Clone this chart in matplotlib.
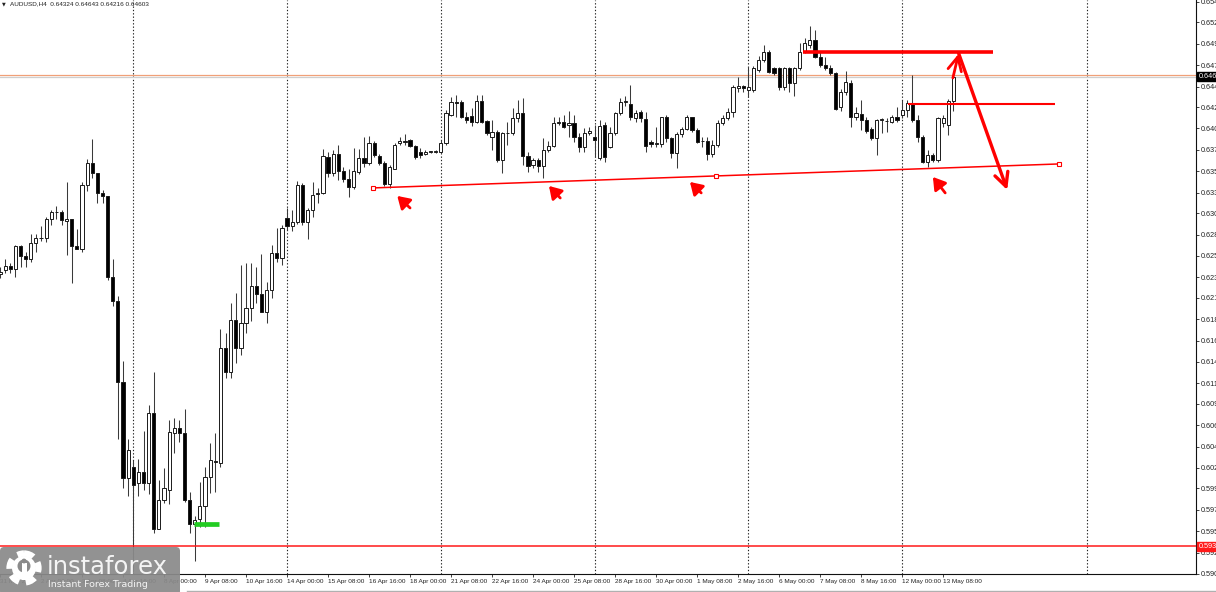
import numpy as np
import matplotlib
matplotlib.use("Agg")
import matplotlib.pyplot as plt
import matplotlib.transforms as mtransforms
from matplotlib.patches import FancyBboxPatch, Circle, Rectangle

symbol = "AUDUSD,H4"
first_bar = -26          # bar 0 = 7 Apr 00:00, one bar every 4 hours

# OHLC, oldest first (bars -26 .. 160)
opens = [
    0.6239, 0.6243, 0.6248, 0.6244, 0.6270, 0.6259, 0.6256, 0.6274, 0.6279, 0.6279,
    0.6300, 0.6308, 0.6308, 0.6298, 0.6300, 0.6270, 0.6267, 0.6339, 0.6363, 0.6352,
    0.6330, 0.6326, 0.6235, 0.6208, 0.6118, 0.6010, 0.6022, 0.6004, 0.6017, 0.6004,
    0.6083, 0.5953, 0.5985, 0.5996, 0.6060, 0.6066, 0.6060, 0.5985, 0.5958, 0.5964,
    0.5978, 0.6011, 0.6029, 0.6027, 0.6156, 0.6129, 0.6187, 0.6156, 0.6184, 0.6200,
    0.6225, 0.6216, 0.6196, 0.6221, 0.6262, 0.6257, 0.6302, 0.6293, 0.6297, 0.6339,
    0.6297, 0.6311, 0.6329, 0.6330, 0.6370, 0.6352, 0.6373, 0.6354, 0.6345, 0.6336,
    0.6353, 0.6369, 0.6363, 0.6386, 0.6371, 0.6363, 0.6340, 0.6357, 0.6386, 0.6387,
    0.6389, 0.6382, 0.6376, 0.6373, 0.6376, 0.6376, 0.6376, 0.6386, 0.6417, 0.6432,
    0.6432, 0.6415, 0.6416, 0.6409, 0.6433, 0.6410, 0.6392, 0.6398, 0.6367, 0.6397,
    0.6397, 0.6414, 0.6419, 0.6371, 0.6361, 0.6367, 0.6360, 0.6378, 0.6382, 0.6408,
    0.6409, 0.6406, 0.6408, 0.6392, 0.6381, 0.6397, 0.6392, 0.6369, 0.6406, 0.6381,
    0.6397, 0.6419, 0.6432, 0.6429, 0.6414, 0.6420, 0.6413, 0.6387, 0.6385, 0.6385,
    0.6415, 0.6391, 0.6375, 0.6396, 0.6401, 0.6415, 0.6400, 0.6388, 0.6388, 0.6373,
    0.6384, 0.6408, 0.6414, 0.6420, 0.6447, 0.6450, 0.6445, 0.6445, 0.6468, 0.6479,
    0.6488, 0.6470, 0.6470, 0.6449, 0.6470, 0.6453, 0.6470, 0.6488, 0.6496, 0.6501,
    0.6482, 0.6473, 0.6470, 0.6464, 0.6426, 0.6443, 0.6453, 0.6415, 0.6418, 0.6412,
    0.6401, 0.6391, 0.6412, 0.6410, 0.6409, 0.6415, 0.6417, 0.6423, 0.6431, 0.6412,
    0.6392, 0.6364, 0.6372, 0.6367, 0.6408, 0.6406, 0.64324,
]
highs = [
    0.6246, 0.6255, 0.6251, 0.6271, 0.6271, 0.6263, 0.6284, 0.6284, 0.6292, 0.6303,
    0.6311, 0.6315, 0.6311, 0.6342, 0.6300, 0.6289, 0.6342, 0.6368, 0.6390, 0.6352,
    0.6333, 0.6326, 0.6255, 0.6214, 0.6141, 0.6053, 0.6030, 0.6031, 0.6063, 0.6092,
    0.6129, 0.6008, 0.6021, 0.6075, 0.6077, 0.6075, 0.6087, 0.5994, 0.5967, 0.6005,
    0.6022, 0.6049, 0.6060, 0.6177, 0.6173, 0.6206, 0.6217, 0.6249, 0.6251, 0.6251,
    0.6246, 0.6261, 0.6230, 0.6271, 0.6290, 0.6294, 0.6313, 0.6311, 0.6343, 0.6341,
    0.6313, 0.6342, 0.6335, 0.6379, 0.6376, 0.6378, 0.6384, 0.6359, 0.6356, 0.6380,
    0.6379, 0.6392, 0.6394, 0.6388, 0.6373, 0.6366, 0.6361, 0.6386, 0.6392, 0.6396,
    0.6390, 0.6384, 0.6380, 0.6378, 0.6377, 0.6378, 0.6389, 0.6423, 0.6437, 0.6440,
    0.6434, 0.6420, 0.6425, 0.6440, 0.6440, 0.6412, 0.6412, 0.6400, 0.6398, 0.6409,
    0.6425, 0.6434, 0.6436, 0.6376, 0.6369, 0.6369, 0.6391, 0.6388, 0.6415, 0.6415,
    0.6417, 0.6422, 0.6417, 0.6397, 0.6402, 0.6404, 0.6406, 0.6412, 0.6409, 0.6404,
    0.6420, 0.6436, 0.6438, 0.6451, 0.6423, 0.6423, 0.6420, 0.6389, 0.6404, 0.6415,
    0.6417, 0.6392, 0.6398, 0.6404, 0.6417, 0.6415, 0.6402, 0.6392, 0.6392, 0.6389,
    0.6412, 0.6417, 0.6425, 0.6451, 0.6460, 0.6451, 0.6471, 0.6472, 0.6483, 0.6496,
    0.6490, 0.6471, 0.6471, 0.6471, 0.6471, 0.6471, 0.6498, 0.6504, 0.6517, 0.6513,
    0.6488, 0.6482, 0.6473, 0.6465, 0.6446, 0.6467, 0.6456, 0.6426, 0.6434, 0.6415,
    0.6404, 0.6413, 0.6414, 0.6414, 0.6417, 0.6426, 0.6434, 0.6434, 0.6462, 0.6417,
    0.6395, 0.6378, 0.6374, 0.6415, 0.6417, 0.6435, 0.64643,
]
lows = [
    0.6234, 0.6240, 0.6240, 0.6235, 0.6247, 0.6247, 0.6252, 0.6263, 0.6276, 0.6275,
    0.6294, 0.6300, 0.6294, 0.6260, 0.6229, 0.6267, 0.6263, 0.6332, 0.6346, 0.6318,
    0.6318, 0.6232, 0.6203, 0.6053, 0.5999, 0.5989, 0.5904, 0.5989, 0.5996, 0.5992,
    0.5948, 0.5952, 0.5982, 0.5981, 0.6038, 0.6050, 0.5983, 0.5948, 0.5917, 0.5955,
    0.5955, 0.5993, 0.5994, 0.6022, 0.6122, 0.6122, 0.6139, 0.6148, 0.6173, 0.6186,
    0.6206, 0.6196, 0.6184, 0.6212, 0.6252, 0.6249, 0.6288, 0.6287, 0.6295, 0.6294,
    0.6278, 0.6303, 0.6318, 0.6329, 0.6348, 0.6349, 0.6344, 0.6342, 0.6325, 0.6334,
    0.6351, 0.6359, 0.6361, 0.6370, 0.6361, 0.6337, 0.6335, 0.6356, 0.6384, 0.6384,
    0.6381, 0.6368, 0.6369, 0.6372, 0.6375, 0.6375, 0.6375, 0.6384, 0.6416, 0.6415,
    0.6414, 0.6408, 0.6405, 0.6408, 0.6408, 0.6395, 0.6378, 0.6364, 0.6352, 0.6384,
    0.6395, 0.6409, 0.6361, 0.6353, 0.6358, 0.6353, 0.6346, 0.6376, 0.6381, 0.6406,
    0.6403, 0.6392, 0.6387, 0.6376, 0.6376, 0.6395, 0.6370, 0.6367, 0.6364, 0.6380,
    0.6395, 0.6417, 0.6427, 0.6412, 0.6409, 0.6409, 0.6376, 0.6381, 0.6381, 0.6381,
    0.6387, 0.6369, 0.6358, 0.6392, 0.6400, 0.6398, 0.6386, 0.6381, 0.6367, 0.6370,
    0.6381, 0.6406, 0.6412, 0.6415, 0.6443, 0.6443, 0.6437, 0.6443, 0.6465, 0.6477,
    0.6464, 0.6462, 0.6445, 0.6445, 0.6443, 0.6438, 0.6468, 0.6487, 0.6492, 0.6481,
    0.6471, 0.6468, 0.6462, 0.6423, 0.6422, 0.6440, 0.6404, 0.6412, 0.6400, 0.6397,
    0.6389, 0.6372, 0.6397, 0.6398, 0.6408, 0.6409, 0.6414, 0.6415, 0.6409, 0.6387,
    0.6363, 0.6359, 0.6364, 0.6364, 0.6404, 0.6395, 0.64216,
]
closes = [
    0.6241, 0.6248, 0.6244, 0.6270, 0.6259, 0.6256, 0.6274, 0.6279, 0.6279, 0.6300,
    0.6308, 0.6308, 0.6299, 0.6300, 0.6270, 0.6267, 0.6339, 0.6363, 0.6352, 0.6330,
    0.6326, 0.6235, 0.6208, 0.6118, 0.6010, 0.6041, 0.6002, 0.6017, 0.6004, 0.6083,
    0.5952, 0.5985, 0.5998, 0.6061, 0.6066, 0.6060, 0.5985, 0.5958, 0.5963, 0.5978,
    0.6011, 0.6030, 0.6028, 0.6156, 0.6129, 0.6187, 0.6156, 0.6184, 0.6200, 0.6225,
    0.6216, 0.6196, 0.6221, 0.6262, 0.6257, 0.6290, 0.6292, 0.6297, 0.6339, 0.6297,
    0.6311, 0.6327, 0.6330, 0.6371, 0.6352, 0.6373, 0.6354, 0.6345, 0.6336, 0.6354,
    0.6369, 0.6363, 0.6386, 0.6372, 0.6363, 0.6340, 0.6359, 0.6384, 0.6388, 0.6388,
    0.6382, 0.6370, 0.6372, 0.6376, 0.6376, 0.6376, 0.6386, 0.6419, 0.6432, 0.6431,
    0.6415, 0.6412, 0.6409, 0.6433, 0.6409, 0.6397, 0.6398, 0.6367, 0.6397, 0.6397,
    0.6414, 0.6419, 0.6371, 0.6360, 0.6367, 0.6360, 0.6378, 0.6382, 0.6408, 0.6409,
    0.6404, 0.6408, 0.6392, 0.6381, 0.6397, 0.6399, 0.6389, 0.6405, 0.6370, 0.6397,
    0.6419, 0.6432, 0.6433, 0.6415, 0.6419, 0.6414, 0.6382, 0.6385, 0.6385, 0.6415,
    0.6391, 0.6375, 0.6396, 0.6401, 0.6415, 0.6400, 0.6387, 0.6388, 0.6373, 0.6384,
    0.6408, 0.6414, 0.6420, 0.6449, 0.6450, 0.6447, 0.6449, 0.6470, 0.6479, 0.6488,
    0.6465, 0.6464, 0.6449, 0.6470, 0.6453, 0.6470, 0.6488, 0.6498, 0.6501, 0.6482,
    0.6473, 0.6470, 0.6464, 0.6424, 0.6443, 0.6454, 0.6415, 0.6419, 0.6412, 0.6399,
    0.6391, 0.6412, 0.6412, 0.6410, 0.6415, 0.6412, 0.6423, 0.6431, 0.6412, 0.6392,
    0.6364, 0.6372, 0.6367, 0.6414, 0.6414, 0.6433, 0.64603,
]

time_ticks = [-26, -18, -10, -2, 6, 14, 22, 30, 38, 46, 54, 62, 70, 78, 86,
              94, 102, 110, 118, 126, 134, 142, 150, 158]
time_labels = ["31 Mar 2025", "2 Apr 00:00", "3 Apr 08:00", "4 Apr 16:00",
               "8 Apr 00:00", "9 Apr 08:00", "10 Apr 16:00", "14 Apr 00:00",
               "15 Apr 08:00", "16 Apr 16:00", "18 Apr 00:00", "21 Apr 08:00",
               "22 Apr 16:00", "24 Apr 00:00", "25 Apr 08:00", "28 Apr 16:00",
               "30 Apr 00:00", "1 May 08:00", "2 May 16:00", "6 May 00:00",
               "7 May 08:00", "8 May 16:00", "12 May 00:00", "13 May 08:00"]
price_ticks = [0.6544, 0.6521, 0.6497, 0.6473, 0.6449, 0.6426, 0.6402, 0.6378,
               0.6354, 0.6330, 0.6307, 0.6283, 0.6259, 0.6235, 0.6212, 0.6188,
               0.6164, 0.6140, 0.6116, 0.6093, 0.6069, 0.6045, 0.6021, 0.5998,
               0.5974, 0.5950, 0.5926, 0.5902]
week_starts = [0, 30, 60, 90, 120, 150, 186]

ask_price = 0.64619
support_price = 0.5933
# drawn objects: (bar, price)
trend_line = [(46.8, 0.63353), (113.7, 0.63487), (180.6, 0.63622)]
top_level = [(130.7, 0.64879), (167.7, 0.64879)]
mid_level = [(151.2, 0.64295), (179.8, 0.64295)]
green_level = [(11.9, 0.59583), (16.8, 0.59583)]
arrow_up = [(159.9, 0.64587), (161.0, 0.64857)]
arrow_down = [(161.0, 0.64867), (170.5, 0.63330)]
cursor_arrows = [((54.0, 0.63128), (51.5, 0.63263)),
                 ((83.3, 0.63240), (81.1, 0.63375)),
                 ((110.8, 0.63297), (108.6, 0.63420)),
                 ((158.4, 0.63297), (156.0, 0.63476))]

bars = np.arange(first_bar, first_bar + len(opens))
o = np.array(opens)
h = np.array(highs)
l = np.array(lows)
c = np.array(closes)

fig = plt.figure(figsize=(12.16, 5.92), dpi=100)
fig.patch.set_facecolor("white")
ax = fig.add_axes([0, 18 / 592, 1196 / 1216, 574 / 592])
ax.set_xlim(-25.94, 207.33)
ax.set_ylim(0.5902, 0.65462)

time_font = dict(family="Liberation Sans", size=4.6)
price_font = dict(family="Liberation Sans", size=5.2)

# weekly separators
for s in week_starts:
    ax.axvline(s, color="#222222", lw=0.8, ls=(0, (1.2, 1.8)), zorder=1)

# candles
up = c >= o
ax.vlines(bars, l, h, color="#3a3a3a", lw=0.75, zorder=2)
body_h = np.maximum(np.abs(c - o), 0.00003)
ax.bar(bars, body_h, bottom=np.minimum(o, c), width=0.62,
       color=np.where(up, "white", "black"), edgecolor="#1a1a1a",
       linewidth=0.7, zorder=3)

# bid / ask lines
ax.axhline(ask_price, color="#f0a078", lw=0.9, zorder=1.5)
ax.axhline(c[-1], color="#cfcfcf", lw=0.9, zorder=1.4)
ax.axhline(support_price, color="#ff1a1a", lw=1.1, zorder=4)

# drawn objects
red = "#ff0000"
tx, ty = zip(*trend_line)
ax.plot([tx[0], tx[-1]], [ty[0], ty[-1]], color=red, lw=1.1, zorder=5)
ax.plot(tx, ty, ls="none", marker="s", ms=2.6, mfc="white", mec=red,
        mew=0.8, zorder=6)
ax.plot(*zip(*top_level), color=red, lw=2.6, solid_capstyle="butt", zorder=5)
ax.plot(*zip(*mid_level), color=red, lw=1.5, solid_capstyle="butt", zorder=5)
ax.plot(*zip(*green_level), color="#22cc22", lw=3.4, solid_capstyle="butt",
        zorder=5)
for (start, end), lw in ((arrow_up, 2.0), (arrow_down, 2.4)):
    ax.annotate("", xy=end, xytext=start,
                arrowprops=dict(arrowstyle="->,head_length=0.7,head_width=0.35",
                                color=red, lw=lw, mutation_scale=14,
                                shrinkA=0, shrinkB=0), zorder=6)
for tail, tip in cursor_arrows:
    ax.annotate("", xy=tip, xytext=tail,
                arrowprops=dict(arrowstyle="-|>,head_length=0.8,head_width=0.5",
                                color=red, lw=2.0, mutation_scale=9,
                                shrinkA=0, shrinkB=0), zorder=6)

# axes look
for side in ("top", "left"):
    ax.spines[side].set_visible(False)
for side in ("bottom", "right"):
    ax.spines[side].set_color("#111111")
    ax.spines[side].set_linewidth(0.8)
ax.yaxis.tick_right()
ax.set_yticks(price_ticks)
ax.set_yticklabels([f"{p:.4f}" for p in price_ticks], fontdict=price_font,
                   color="#222222")
ax.tick_params(axis="y", length=2.5, width=0.6, pad=1, colors="#222222")
ax.set_xticks(time_ticks)
ax.set_xticklabels(time_labels, fontdict=time_font, ha="left", color="#222222")
ax.tick_params(axis="x", length=2, width=0.6, pad=1.5, colors="#222222")

# price boxes on the scale
blend = mtransforms.blended_transform_factory(ax.transAxes, ax.transData)
ax.text(1.002, c[-1], f"{c[-1]:.4f}", transform=blend, color="white",
        fontdict=price_font, va="center", ha="left", zorder=10, clip_on=False,
        bbox=dict(boxstyle="square,pad=0.15", fc="black", ec="black"))
ax.text(1.002, support_price, f"{support_price:.4f}", transform=blend,
        color="white", fontdict=price_font, va="center", ha="left", zorder=10,
        clip_on=False,
        bbox=dict(boxstyle="square,pad=0.15", fc="#ff1a1a", ec="#ff1a1a"))

# overlay in pixel units for header, logo and frame bits
ov = fig.add_axes([0, 0, 1, 1])
ov.set_xlim(0, 1216)
ov.set_ylim(592, 0)
ov.axis("off")
ov.text(2, 4, "\u25bc", fontsize=3.5, color="#222222", va="center",
        family="DejaVu Sans")
ov.text(10, 4, f"{symbol}  {o[-1]:.5f} {h[-1]:.5f} {l[-1]:.5f} {c[-1]:.5f}",
        fontdict=time_font, color="#222222", va="center")
ov.plot([187, 1216], [590.5, 590.5], color="#b0b0b0", lw=1)

ov.add_patch(FancyBboxPatch((0, 547), 180, 48,
                            boxstyle="round,pad=0,rounding_size=4",
                            fc="#8a8a8a", ec="none", alpha=0.93))
ov.add_patch(Circle((24, 568), 14.5, fill=False, ec="white", lw=4.5,
                    ls=(0, (1.6, 1.1))))
ov.add_patch(Circle((24, 568), 12, fc="white", ec="none"))
ov.add_patch(Circle((24, 566), 6.5, fc="#8a8a8a", ec="none"))
ov.add_patch(Rectangle((21.5, 563), 5, 17, fc="white", ec="none"))
ov.add_patch(Circle((24, 561), 2.4, fc="#8a8a8a", ec="none"))
ov.text(47, 574, "instaforex", color="#f4f4f4", fontsize=17.5,
        family="DejaVu Sans", va="baseline")
ov.text(48, 587, "Instant Forex Trading", color="#f4f4f4", fontsize=6.8,
        family="DejaVu Sans", va="baseline")

fig.savefig("out.png", dpi=100)
